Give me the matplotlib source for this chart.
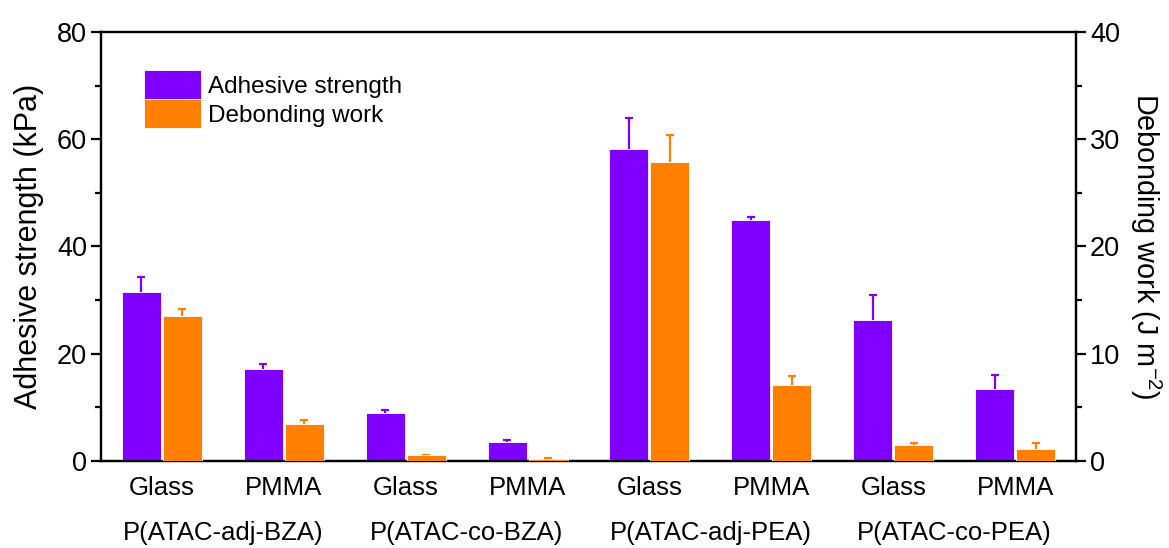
import numpy as np
import matplotlib.pyplot as plt
from matplotlib.ticker import MultipleLocator

plt.rcParams['font.family'] = ['Liberation Sans', 'DejaVu Sans']

# Data
substrates = ['Glass', 'PMMA', 'Glass', 'PMMA', 'Glass', 'PMMA', 'Glass', 'PMMA']
polymers = ['P(ATAC-adj-BZA)', 'P(ATAC-co-BZA)', 'P(ATAC-adj-PEA)', 'P(ATAC-co-PEA)']
strength = [31.6, 17.1, 9.0, 3.5, 58.1, 44.9, 26.3, 13.5]        # kPa
strength_err = [2.8, 0.9, 0.6, 0.4, 5.9, 0.6, 4.7, 2.5]
work = [13.55, 3.42, 0.53, 0.22, 27.85, 7.09, 1.52, 1.09]         # J m^-2
work_err = [0.65, 0.4, 0.05, 0.03, 2.55, 0.8, 0.2, 0.56]

purple = '#8000FF'
orange = '#FF8000'

fig = plt.figure(figsize=(11.69, 5.48), dpi=100)
ax = fig.add_axes([0.0864, 0.1588, 0.8341, 0.7828])
ax2 = ax.twinx()

x = np.arange(len(substrates)) + 0.5
w = 0.32


def bars_with_upper_err(a, xs, vals, errs, color, label):
    a.bar(xs, vals, w, color=color, edgecolor='white', linewidth=0.6, label=label, zorder=3)
    _, caps, _ = a.errorbar(xs, vals, yerr=[np.zeros(len(vals)), errs], fmt='none',
                            ecolor=color, elinewidth=1.6, capsize=3.2, capthick=1.6, zorder=2)
    caps[0].set_visible(False)  # only the upper cap, like the original


bars_with_upper_err(ax, x - w / 2 - 0.008, strength, strength_err, purple, 'Adhesive strength')
bars_with_upper_err(ax2, x + w / 2 + 0.008, work, work_err, orange, 'Debonding work')

ax.set_xlim(0, 8)
ax.set_ylim(0, 80)
ax2.set_ylim(0, 40)
ax.yaxis.set_major_locator(MultipleLocator(20))
ax.yaxis.set_minor_locator(MultipleLocator(10))
ax2.yaxis.set_major_locator(MultipleLocator(10))
ax2.yaxis.set_minor_locator(MultipleLocator(5))

ax.set_xticks(x)
ax.set_xticklabels(substrates, fontsize=18.5)
ax.tick_params(axis='x', length=0, pad=11)
for a in (ax, ax2):
    a.tick_params(axis='y', which='major', direction='out', length=7, width=1.6,
                  labelsize=19.5, pad=3)
    a.tick_params(axis='y', which='minor', direction='out', length=4, width=1.6)
    for s in a.spines.values():
        s.set_linewidth(1.6)

ax.set_ylabel('Adhesive strength (kPa)', fontsize=22, labelpad=9)
ax2.set_ylabel('Debonding work (J m$^{\\mathregular{-2}}$)', fontsize=20.8,
               rotation=270, labelpad=31)

for i, name in enumerate(polymers):
    ax.text(2 * i + 1, -0.168, name, transform=ax.get_xaxis_transform(),
            ha='center', va='center', fontsize=18.5)

h1, l1 = ax.get_legend_handles_labels()
h2, l2 = ax2.get_legend_handles_labels()
ax2.legend(h1 + h2, l1 + l2, loc='upper left', bbox_to_anchor=(0.044, 0.911),
           frameon=False, fontsize=17.5, handlelength=2.35, handleheight=1.45,
           handletextpad=0.3, labelspacing=0.0, borderpad=0, borderaxespad=0)

fig.savefig('out.png', dpi=100)
